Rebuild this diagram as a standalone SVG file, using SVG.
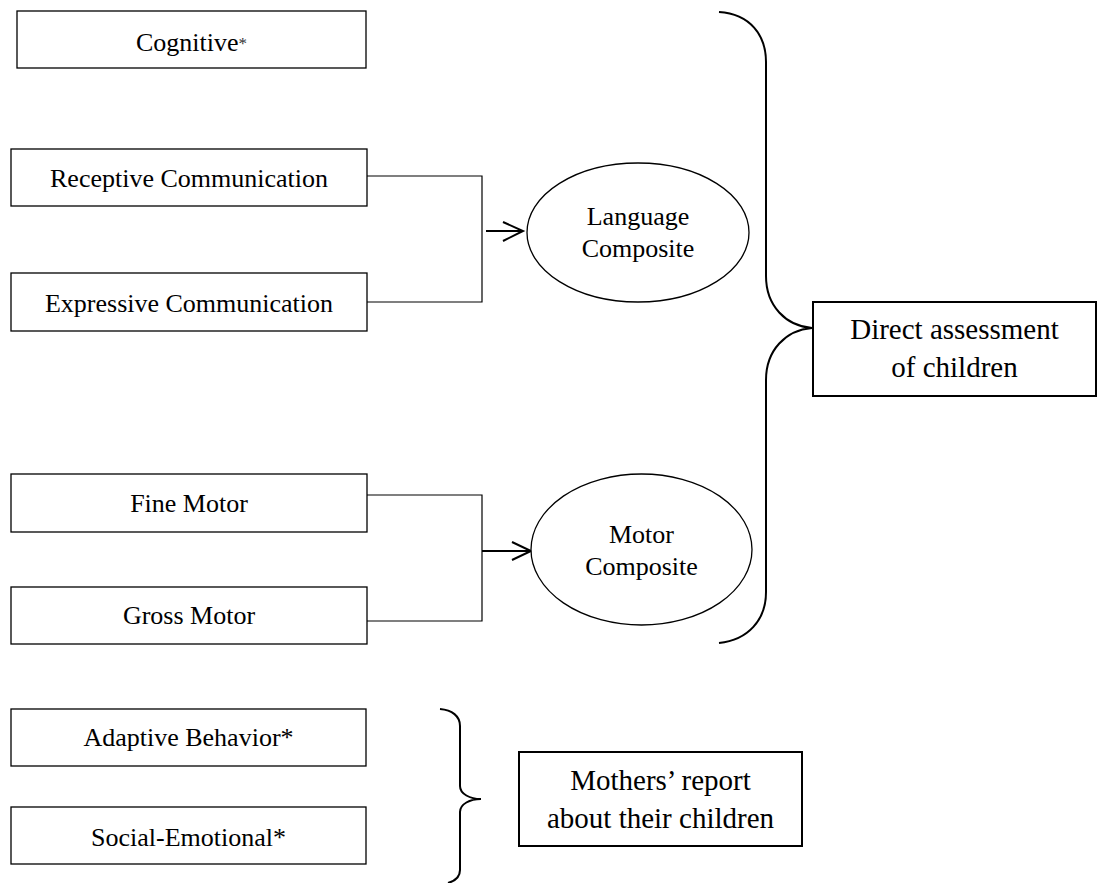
<svg xmlns="http://www.w3.org/2000/svg" width="1099" height="883" viewBox="0 0 1099 883">
  <style>
    text { font-family: "Liberation Serif", "Times New Roman", serif; fill: #000; text-anchor: middle; }
    .box { fill: #fff; stroke: #000; stroke-width: 1.3; }
    .box2 { fill: #fff; stroke: #000; stroke-width: 2; }
    .lbl { font-size: 26px; }
    .big { font-size: 29px; }
    .wire { fill: none; stroke: #000; stroke-width: 1.2; }
    .arrow { fill: none; stroke: #000; stroke-width: 2; }
    .brace { fill: none; stroke: #000; stroke-width: 2; }
  </style>
  <rect width="1099" height="883" fill="#fff"/>

  <g id="connectors">
    <!-- language branch -->
    <polyline class="wire" points="367,176 482,176 482,302 367,302"/>
    <line class="arrow" x1="486" y1="231" x2="522" y2="231"/>
    <polyline class="arrow" points="503,222 523,231 503,241"/>
    <!-- motor branch -->
    <polyline class="wire" points="367,495 482,495 482,621 367,621"/>
    <line class="arrow" x1="482" y1="551" x2="530" y2="551"/>
    <polyline class="arrow" points="512,542 531,551 512,560"/>
    <!-- brace grouping direct assessments -->
    <path class="brace" d="M719,12 C750,14 766,35 766,62 L766,276 C766,306 786,326 812,328 C786,330 766,350 766,380 L766,592 C766,620 748,640 719,643"/>
    <!-- brace grouping mothers' reports -->
    <path class="brace" d="M440,709 C452,710 460,716 460,726 L460,786 C460,794 470,799 481,799 C470,799 460,804 460,812 L460,870 C460,877 455,881 448,883"/>
  </g>

  <g id="cognitive">
    <rect class="box" x="17" y="11" width="349" height="57"/>
    <text class="lbl" x="191.5" y="51">Cognitive<tspan font-size="17" fill="#333" dy="-2">*</tspan></text>
  </g>

  <g id="receptive">
    <rect class="box" x="11" y="149" width="356" height="57"/>
    <text class="lbl" x="189" y="187">Receptive Communication</text>
  </g>

  <g id="expressive">
    <rect class="box" x="11" y="273" width="356" height="58"/>
    <text class="lbl" x="189" y="312">Expressive Communication</text>
  </g>

  <g id="language-composite">
    <ellipse class="box" cx="638" cy="232.5" rx="111" ry="69.5"/>
    <text class="lbl" x="638" y="225">Language</text>
    <text class="lbl" x="638" y="257">Composite</text>
  </g>

  <g id="fine-motor">
    <rect class="box" x="11" y="474" width="356" height="58"/>
    <text class="lbl" x="189" y="512">Fine Motor</text>
  </g>

  <g id="gross-motor">
    <rect class="box" x="11" y="587" width="356" height="57"/>
    <text class="lbl" x="189" y="624">Gross Motor</text>
  </g>

  <g id="motor-composite">
    <ellipse class="box" cx="641.5" cy="549.5" rx="110.5" ry="75.5"/>
    <text class="lbl" x="641.5" y="543">Motor</text>
    <text class="lbl" x="641.5" y="575">Composite</text>
  </g>

  <g id="direct-assessment">
    <rect class="box2" x="813" y="302" width="283" height="94"/>
    <text class="big" x="954.5" y="339">Direct assessment</text>
    <text class="big" x="954.5" y="377">of children</text>
  </g>

  <g id="adaptive">
    <rect class="box" x="11" y="709" width="355" height="57"/>
    <text class="lbl" x="188.5" y="746">Adaptive Behavior*</text>
  </g>

  <g id="social-emotional">
    <rect class="box" x="11" y="807" width="355" height="57"/>
    <text class="lbl" x="188.5" y="846">Social-Emotional*</text>
  </g>

  <g id="mothers-report">
    <rect class="box2" x="519" y="752" width="283" height="94"/>
    <text class="big" x="660.5" y="790">Mothers’ report</text>
    <text class="big" x="660.5" y="828">about their children</text>
  </g>
</svg>
